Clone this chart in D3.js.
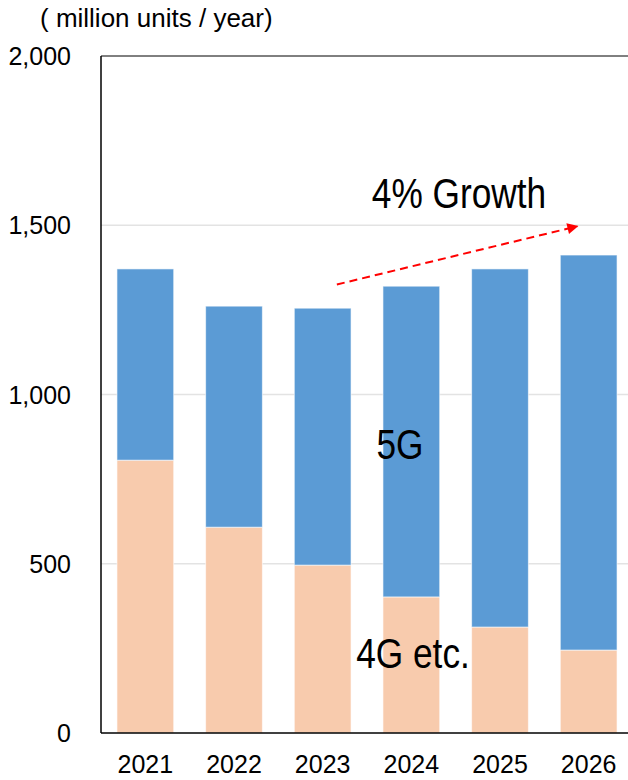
<!DOCTYPE html>
<html><head><meta charset="utf-8">
<script src="https://cdn.jsdelivr.net/npm/d3@7"></script>
<style>body{margin:0;background:#fff}svg{display:block}</style>
</head><body>
<svg id="c" width="628" height="780"></svg>
<script>
const years = ["2021","2022","2023","2024","2025","2026"];
const g4 = [806, 608, 496, 402, 313, 245];
const g5 = [565, 653, 759, 918, 1058, 1167];
const yTicks = [0, 500, 1000, 1500, 2000];
const unitLabel = "( million units / year)";
const growthLabel = "4% Growth";
const seriesLabels = ["4G etc.", "5G"];

const svg = d3.select("#c");
const L = 101, R = 633, T = 56, B = 733;
const sans = "'Liberation Sans',Arial,sans-serif";

const x = d3.scaleBand().domain(years).range([L, R]).paddingInner(0.36).paddingOuter(0.18);
const y = d3.scaleLinear().domain([0, 2000]).range([B, T]);

// gridlines
svg.append("g").selectAll("line").data(yTicks.slice(1, -1)).join("line")
  .attr("x1", L).attr("x2", 628).attr("y1", d => y(d)).attr("y2", d => y(d))
  .attr("stroke", "#e3e3e3").attr("stroke-width", 1.5);

const data = years.map((yr, i) => ({yr, a: g4[i], b: g5[i]}));
const stack = d3.stack().keys(["a", "b"])(data);
const colors = ["#f8cbad", "#5b9bd5"];
svg.append("g").selectAll("g").data(stack).join("g")
  .attr("fill", (d, i) => colors[i])
  .selectAll("rect").data(d => d).join("rect")
  .attr("x", d => x(d.data.yr)).attr("width", x.bandwidth())
  .attr("y", d => y(d[1])).attr("height", d => y(d[0]) - y(d[1]))
  .attr("stroke", "#ffffff").attr("stroke-opacity", 0.6).attr("stroke-width", 1);

// frame
svg.append("line").attr("x1", L).attr("x2", 628).attr("y1", T).attr("y2", T).attr("stroke", "#000").attr("stroke-width", 1);
svg.append("line").attr("x1", L).attr("x2", 628).attr("y1", B).attr("y2", B).attr("stroke", "#000").attr("stroke-width", 1.5);
svg.append("line").attr("x1", L).attr("x2", L).attr("y1", T).attr("y2", B).attr("stroke", "#000").attr("stroke-width", 1.5);

// y axis labels
svg.append("g").selectAll("text").data(yTicks).join("text")
  .attr("x", 71).attr("y", d => y(d) + 9).attr("text-anchor", "end")
  .attr("font-family", sans).attr("font-size", 25).attr("fill", "#000")
  .text(d => d3.format(",")(d));

// x axis labels
svg.append("g").selectAll("text").data(years).join("text")
  .attr("x", d => x(d) + x.bandwidth() / 2).attr("y", 773).attr("text-anchor", "middle")
  .attr("font-family", sans).attr("font-size", 25).attr("fill", "#000")
  .text(d => d);

svg.append("text").attr("x", 40).attr("y", 27).attr("font-family", sans).attr("font-size", 26).text(unitLabel);

// growth arrow
svg.append("defs").append("marker").attr("id", "ah").attr("viewBox", "0 0 10 10")
  .attr("refX", 9).attr("refY", 5).attr("markerWidth", 6).attr("markerHeight", 5.5)
  .attr("orient", "auto").attr("markerUnits", "strokeWidth")
  .append("path").attr("d", "M0,0L10,5L0,10Z").attr("fill", "#ff0000");
const ax0 = x("2023") + x.bandwidth() * 0.75, ax1 = x("2026") + x.bandwidth() * 0.3;
svg.append("line").attr("x1", ax0).attr("y1", y(1325)).attr("x2", ax1).attr("y2", y(1497))
  .attr("stroke", "#ff0000").attr("stroke-width", 2).attr("stroke-dasharray", "8,5")
  .attr("marker-end", "url(#ah)");

function narrowText(cx, by, txt) {
  svg.append("text").attr("transform", `translate(${cx},${by}) scale(0.82,1)`)
    .attr("text-anchor", "middle").attr("font-family", sans).attr("font-size", 43).text(txt);
}
narrowText(459, 208, growthLabel);
narrowText(400, 459, seriesLabels[1]);
narrowText(413, 668, seriesLabels[0]);
</script>
</body></html>
